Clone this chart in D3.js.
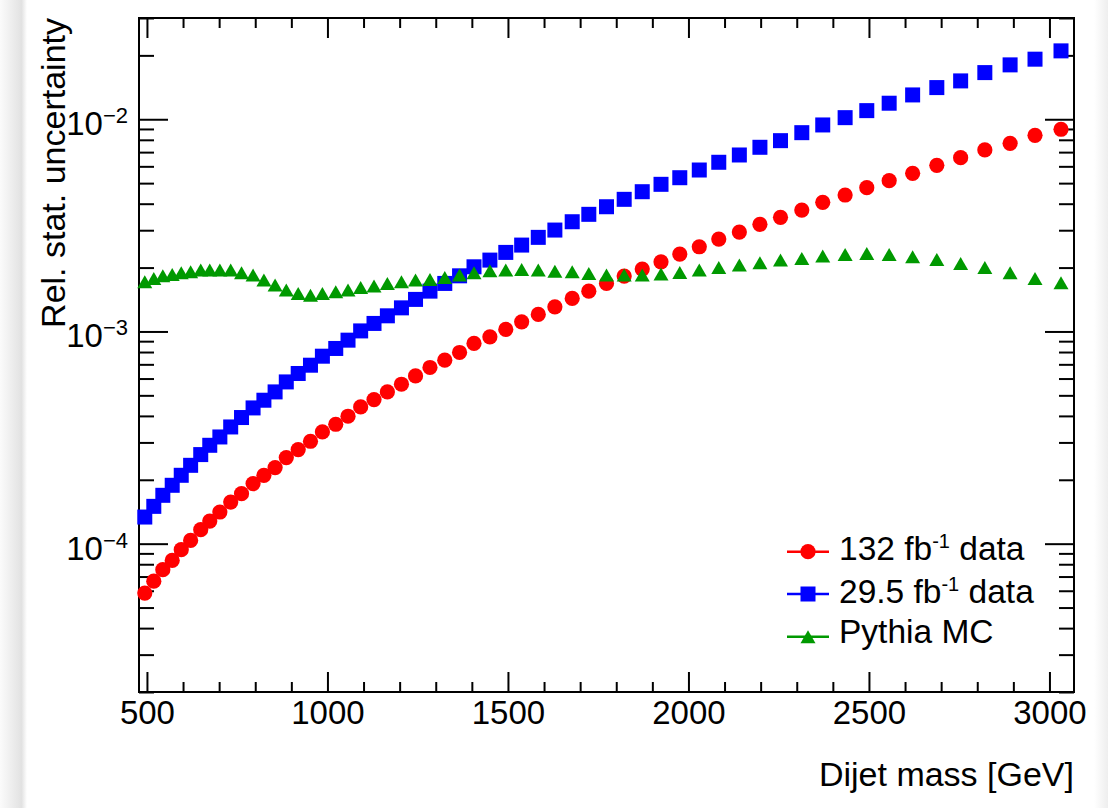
<!DOCTYPE html>
<html><head><meta charset="utf-8">
<script src="https://cdn.jsdelivr.net/npm/d3@7"></script>
<style>
body{margin:0;background:#fff;}
svg{display:block;}
text{font-family:"Liberation Sans", Arial, Helvetica, sans-serif;fill:#000;}
</style>
</head><body>
<svg id="c" width="1108" height="808"></svg>
<script>
// ---- data ----
const massGeV = [494,519,544,570,595,621,649,674,702,732,
  762,794,824,855,886,919,953,986,1023,1057,
  1092,1129,1166,1205,1244,1284,1325,1366,1406,1450,
  1494,1538,1584,1630,1678,1724,1773,1822,1872,1924,
  1976,2030,2084,2141,2198,2255,2314,2372,2434,2494,
  2556,2621,2688,2754,2821,2891,2960,3032];
const data132 = [5.85e-5,6.66e-5,7.54e-5,8.34e-5,9.37e-5,1.036e-4,1.164e-4,1.278e-4,1.410e-4,1.571e-4,
  1.721e-4,1.919e-4,2.100e-4,2.283e-4,2.545e-4,2.776e-4,3.038e-4,3.361e-4,3.653e-4,3.986e-4,
  4.410e-4,4.778e-4,5.190e-4,5.641e-4,6.173e-4,6.764e-4,7.322e-4,7.960e-4,8.779e-4,9.43e-4,
  1.022e-3,1.110e-3,1.203e-3,1.306e-3,1.431e-3,1.549e-3,1.684e-3,1.823e-3,1.967e-3,2.130e-3,
  2.315e-3,2.507e-3,2.725e-3,2.940e-3,3.197e-3,3.450e-3,3.734e-3,4.060e-3,4.395e-3,4.759e-3,
  5.133e-3,5.564e-3,6.067e-3,6.590e-3,7.165e-3,7.704e-3,8.404e-3,8.970e-3];
const data295 = [1.335e-4,1.499e-4,1.690e-4,1.884e-4,2.100e-4,2.340e-4,2.629e-4,2.908e-4,3.183e-4,3.548e-4,
  3.930e-4,4.362e-4,4.742e-4,5.190e-4,5.784e-4,6.338e-4,6.934e-4,7.646e-4,8.315e-4,9.099e-4,
  1.006e-3,1.091e-3,1.185e-3,1.292e-3,1.416e-3,1.549e-3,1.684e-3,1.829e-3,2.017e-3,2.169e-3,
  2.358e-3,2.553e-3,2.776e-3,3.005e-3,3.289e-3,3.564e-3,3.870e-3,4.194e-3,4.556e-3,4.936e-3,
  5.303e-3,5.765e-3,6.270e-3,6.786e-3,7.377e-3,7.927e-3,8.645e-3,9.40e-3,1.0175e-2,1.098e-2,
  1.190e-2,1.302e-2,1.410e-2,1.516e-2,1.659e-2,1.804e-2,1.919e-2,2.100e-2];
const pythiaMC = [1.714e-3,1.778e-3,1.829e-3,1.857e-3,1.890e-3,1.910e-3,1.946e-3,1.946e-3,1.946e-3,1.946e-3,
  1.890e-3,1.843e-3,1.746e-3,1.654e-3,1.566e-3,1.511e-3,1.483e-3,1.511e-3,1.537e-3,1.566e-3,
  1.613e-3,1.636e-3,1.684e-3,1.714e-3,1.746e-3,1.759e-3,1.798e-3,1.843e-3,1.890e-3,1.931e-3,
  1.946e-3,1.961e-3,1.946e-3,1.924e-3,1.910e-3,1.877e-3,1.843e-3,1.843e-3,1.843e-3,1.863e-3,
  1.898e-3,1.946e-3,2.004e-3,2.054e-3,2.107e-3,2.169e-3,2.210e-3,2.265e-3,2.307e-3,2.332e-3,
  2.307e-3,2.248e-3,2.186e-3,2.093e-3,2.004e-3,1.890e-3,1.778e-3,1.695e-3];
const xTickValues = [500,1000,1500,2000,2500,3000];
const yTickExponents = [-4,-3,-2];
const xTitle = "Dijet mass [GeV]";
const yTitle = "Rel. stat. uncertainty";
const legendEntries = [
  {pre:"132 fb", sup:"-1", post:" data", color:"#ff0000", shape:"circle", series:data132},
  {pre:"29.5 fb", sup:"-1", post:" data", color:"#0000ff", shape:"square", series:data295},
  {pre:"Pythia MC", sup:"", post:"", color:"#009900", shape:"triangle", series:pythiaMC}
];

// ---- layout ----
const frame = {left:139, top:18, right:1074, bottom:692};
const svg = d3.select("#c");

// page background / card edges
const defs = svg.append("defs");
const gr = defs.append("linearGradient").attr("id","rg").attr("x1","0").attr("x2","1");
gr.append("stop").attr("offset","0").attr("stop-color","#ffffff");
gr.append("stop").attr("offset","1").attr("stop-color","#eeeeee");
const gl = defs.append("linearGradient").attr("id","lg").attr("x1","0").attr("x2","1");
gl.append("stop").attr("offset","0").attr("stop-color","#fbfbfb");
gl.append("stop").attr("offset","0.8").attr("stop-color","#e2e2e2");
gl.append("stop").attr("offset","1").attr("stop-color","#ffffff");
svg.append("rect").attr("x",0).attr("y",0).attr("width",1108).attr("height",808).attr("fill","#fff");
svg.append("rect").attr("x",0).attr("y",0).attr("width",27).attr("height",808).attr("fill","url(#lg)");
svg.append("rect").attr("x",1094).attr("y",0).attr("width",14).attr("height",808).attr("fill","url(#rg)");

const x = d3.scaleLinear().domain([478, 3068]).range([frame.left, frame.right]);
const y = d3.scaleLog().domain([2e-5, 0.03]).range([frame.bottom, frame.top]);

const xMinor = d3.range(500, 3068, 100).filter(v => v % 500 !== 0);
const yMajor = yTickExponents.map(e => Math.pow(10, e));
const yMinor = [];
for (let e = -5; e <= -2; e++) for (let k = 2; k <= 9; k++) {
  const v = k * Math.pow(10, e);
  if (v >= 2e-5 && v <= 0.0301) yMinor.push(v);
}

function tickGroup(axis, transform){
  const g = svg.append("g").attr("transform", transform).call(axis);
  g.select(".domain").remove();
  g.selectAll("line").attr("stroke","#000").attr("stroke-width",2);
  g.selectAll("text").remove();
  return g;
}
const fb = frame.bottom, ft = frame.top, fl = frame.left, fr = frame.right;
// x ticks bottom & top
tickGroup(d3.axisBottom(x).tickValues(xTickValues).tickSize(-20).tickSizeOuter(0), `translate(0,${fb})`);
tickGroup(d3.axisBottom(x).tickValues(xMinor).tickSize(-10).tickSizeOuter(0), `translate(0,${fb})`);
tickGroup(d3.axisTop(x).tickValues(xTickValues).tickSize(-20).tickSizeOuter(0), `translate(0,${ft})`);
tickGroup(d3.axisTop(x).tickValues(xMinor).tickSize(-10).tickSizeOuter(0), `translate(0,${ft})`);
// y ticks left & right
tickGroup(d3.axisLeft(y).tickValues(yMajor).tickSize(-29).tickSizeOuter(0), `translate(${fl},0)`);
tickGroup(d3.axisLeft(y).tickValues(yMinor).tickSize(-15).tickSizeOuter(0), `translate(${fl},0)`);
tickGroup(d3.axisRight(y).tickValues(yMajor).tickSize(-29).tickSizeOuter(0), `translate(${fr},0)`);
tickGroup(d3.axisRight(y).tickValues(yMinor).tickSize(-15).tickSizeOuter(0), `translate(${fr},0)`);

// frame
svg.append("rect").attr("x",fl).attr("y",ft).attr("width",fr-fl).attr("height",fb-ft)
  .attr("fill","none").attr("stroke","#000").attr("stroke-width",2);

// x tick labels
const xl = svg.append("g").attr("transform",`translate(0,${fb})`)
  .call(d3.axisBottom(x).tickValues(xTickValues).tickSize(0).tickPadding(9).tickFormat(d3.format("d")));
xl.select(".domain").remove();
xl.selectAll("text").attr("font-size",33).attr("font-family","Liberation Sans, Arial, sans-serif").attr("fill","#000");

// y tick labels with superscripts
const yl = svg.append("g").attr("transform",`translate(${fl},0)`)
  .call(d3.axisLeft(y).tickValues(yMajor).tickSize(0).tickPadding(11));
yl.select(".domain").remove();
yl.selectAll("text").each(function(d){
  const t = d3.select(this);
  const e = Math.round(Math.log10(d));
  t.text("").attr("dy",null).attr("y",15.5).attr("font-family","Liberation Sans, Arial, sans-serif").attr("fill","#000");
  t.append("tspan").attr("font-size",33).text("10");
  t.append("tspan").attr("font-size",22).attr("dy",-12).text("\u2212" + Math.abs(e));
});

// axis titles
svg.append("text").attr("x",fr).attr("y",786).attr("text-anchor","end").attr("font-size",34).text(xTitle);
svg.append("text").attr("transform",`translate(65,${ft}) rotate(-90)`).attr("text-anchor","end")
  .attr("font-size",34).text(yTitle);

// markers
const TRI_W = 15, TRI_H = 13, SQ = 15, R = 7.6;
function drawMarker(g, shape, cx, cy, color){
  if (shape === "circle") g.append("circle").attr("cx",cx).attr("cy",cy).attr("r",R).attr("fill",color);
  else if (shape === "square") g.append("rect").attr("x",cx-SQ/2).attr("y",cy-SQ/2).attr("width",SQ).attr("height",SQ).attr("fill",color);
  else g.append("path").attr("d",`M${cx},${cy-TRI_H/2}L${cx+TRI_W/2},${cy+TRI_H/2}L${cx-TRI_W/2},${cy+TRI_H/2}Z`).attr("fill",color);
}
const plot = svg.append("g");
legendEntries.forEach(en => {
  const g = plot.append("g");
  en.series.forEach((v,i) => drawMarker(g, en.shape, x(massGeV[i]), y(v), en.color));
});

// legend
const legRows = [551.7, 594, 636.7];
const legBase = [560, 602.5, 642.7];
const leg = svg.append("g");
legendEntries.forEach((en,i) => {
  const cy = legRows[i];
  leg.append("line").attr("x1",787).attr("x2",829).attr("y1",cy).attr("y2",cy).attr("stroke",en.color).attr("stroke-width",2.5);
  drawMarker(leg, en.shape, 808, cy, en.color);
  const t = leg.append("text").attr("x",839).attr("y",legBase[i]).attr("font-size",33.5);
  t.append("tspan").text(en.pre);
  if (en.sup) {
    t.append("tspan").attr("font-size",20).attr("dy",-12).text(en.sup);
    t.append("tspan").attr("dy",12).text(en.post);
  }
});
</script>
</body></html>
